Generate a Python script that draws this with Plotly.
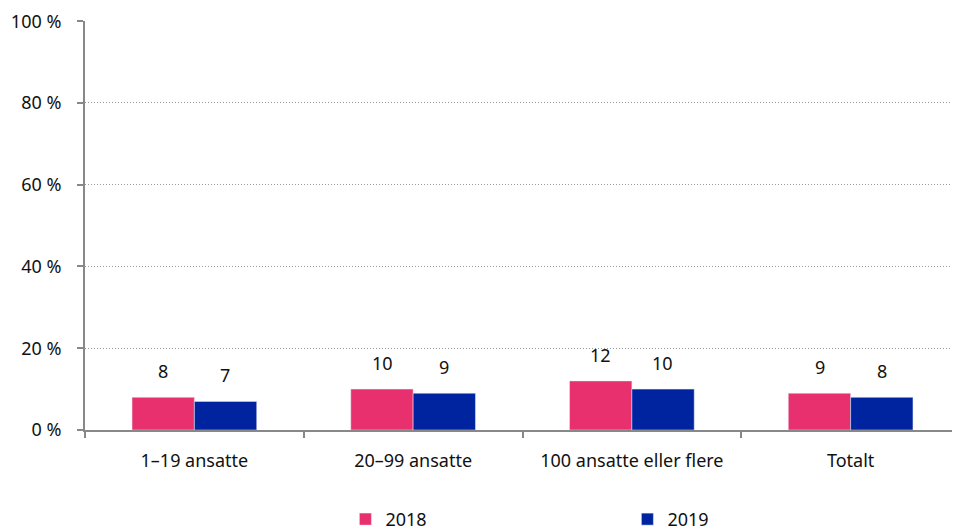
import plotly.graph_objects as go

categories = ["1–19 ansatte", "20–99 ansatte", "100 ansatte eller flere", "Totalt"]
values_2018 = [8, 10, 12, 9]
values_2019 = [7, 9, 10, 8]
y_ticks = [0, 20, 40, 60, 80, 100]
y_tick_labels = ["0 %", "20 %", "40 %", "60 %", "80 %", "100 %"]

FONT = "Noto Sans"
FS = 18
fig = go.Figure()
fig.add_trace(go.Bar(name="2018", x=categories, y=values_2018, marker_color="#E8306F"))
fig.add_trace(go.Bar(name="2019", x=categories, y=values_2019, marker_color="#0024A0"))

# value labels above bars
for vals, shift in ((values_2018, -31), (values_2019, 31)):
    for c, v in zip(categories, vals):
        fig.add_annotation(x=c, y=v, text=str(v), showarrow=False, xshift=shift,
                           yanchor="bottom", yshift=12,
                           font=dict(family=FONT, size=FS, color="#111111"))

fig.update_layout(
    width=952, height=524,
    margin=dict(l=77, r=0, t=13, b=102, autoexpand=False),
    paper_bgcolor="white", plot_bgcolor="white",
    font=dict(family=FONT, size=FS, color="#111111"),
    barmode="group", bargap=0.43, bargroupgap=0,
    showlegend=True,
    legend=dict(orientation="h", x=0.2976, xanchor="left",
                yref="container", y=0.024, yanchor="middle",
                entrywidth=237, entrywidthmode="pixels", itemwidth=30,
                font=dict(size=FS)),
)
fig.update_yaxes(range=[0, 100.05], tickvals=y_ticks, ticktext=y_tick_labels,
                 showgrid=True, gridcolor="#999999", griddash="1px,2px", gridwidth=1,
                 showline=True, linecolor="#888888", linewidth=2,
                 ticks="outside", ticklen=6, tickcolor="#888888", tickwidth=2,
                 zeroline=False, ticklabelstandoff=12, automargin=False)
fig.update_xaxes(showline=True, linecolor="#888888", linewidth=2,
                 ticks="outside", tickson="boundaries", ticklen=6,
                 tickcolor="#888888", tickwidth=2, ticklabelstandoff=13, automargin=False)
fig.write_html("out.html")
